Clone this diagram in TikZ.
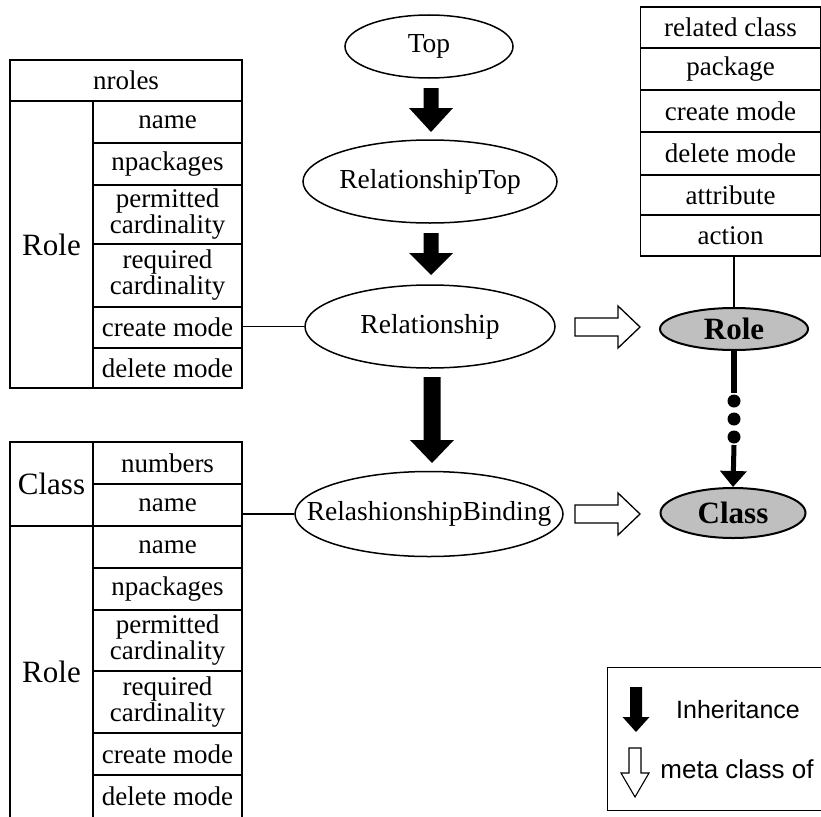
\documentclass[tikz,border=0pt]{standalone}
\usepackage{fontspec}
\setmainfont{Liberation Serif}
\newfontfamily\legendfont{Liberation Sans}
\usetikzlibrary{arrows.meta,calc,shapes.geometric}
\newcommand{\mkzero}[1]{\makebox[0pt]{#1}}
\tikzset{
  cell/.style={draw, line width=1.1pt, rectangle, inner sep=0pt, align=center,
    font=\fontsize{27}{26}\selectfont},
  rcol/.style={cell, minimum width=149pt},
  lcol/.style={cell, minimum width=83pt, font=\fontsize{31}{31}\selectfont},
  tcol/.style={cell, minimum width=180pt},
  ell/.style={draw, ellipse, line width=1.5pt, inner sep=0pt, font=\fontsize{27.5}{27.5}\selectfont},
  gell/.style={ell, fill=black!25, line width=2pt, font=\bfseries\fontsize{31}{31}\selectfont},
  link/.style={line width=1.1pt},
  pics/blk/.style n args={4}{code={
    \fill (-#2,0) -- (#2,0) -- (#2,#1-#4) -- (#3,#1-#4) -- (0,#1) -- (-#3,#1-#4) -- (-#2,#1-#4) -- cycle;}},
  pics/hol/.style n args={4}{code={
    \draw[line width=1.3pt, fill=white] (0,-#2) -- (#1-#4,-#2) -- (#1-#4,-#3) -- (#1,0) -- (#1-#4,#3) -- (#1-#4,#2) -- (0,#2) -- cycle;}},
  pics/hold/.style n args={4}{code={
    \draw[line width=1.1pt, fill=white] (-#2,0) -- (#2,0) -- (#2,#1-#4) -- (#3,#1-#4) -- (0,#1) -- (-#3,#1-#4) -- (-#2,#1-#4) -- cycle;}}
}
\begin{document}
\begin{tikzpicture}[x=1pt,y=-1pt]
\clip (0,0) rectangle (821,816);
\fill[white] (0,0) rectangle (821,816);

% ---------- top-left table ----------
\node[cell, minimum width=232pt, minimum height=41pt] (a_nroles) at (126,80.5) {nroles};
\node[lcol, minimum height=287pt] (a_role) at (51.5,244.5) {Role};
\node[rcol, minimum height=42pt] (a_name) at (167.5,122) {name};
\node[rcol, minimum height=42pt] (a_npack) at (167.5,164) {npackages};
\node[rcol, minimum height=59pt] (a_perm) at (167.5,214.5) {permitted\\cardinality};
\node[rcol, minimum height=63pt] (a_req) at (167.5,275.5) {required\\cardinality};
\node[rcol, minimum height=41pt] (a_cm) at (167.5,327.5) {create mode};
\node[rcol, minimum height=40pt] (a_dm) at (167.5,368) {delete mode};

% ---------- bottom-left table ----------
\node[lcol, minimum height=84pt] (b_class) at (51.5,484) {Class};
\node[rcol, minimum height=42pt] (b_num) at (167.5,463) {numbers};
\node[rcol, minimum height=42pt] (b_cname) at (167.5,505) {name};
\node[lcol, minimum height=292pt] (b_role) at (51.5,672) {Role};
\node[rcol, minimum height=42pt] (b_name) at (167.5,547) {name};
\node[rcol, minimum height=42pt] (b_npack) at (167.5,589) {npackages};
\node[rcol, minimum height=61pt] (b_perm) at (167.5,640.5) {permitted\\cardinality};
\node[rcol, minimum height=62pt] (b_req) at (167.5,702) {required\\cardinality};
\node[rcol, minimum height=42pt] (b_cm) at (167.5,754) {create mode};
\node[rcol, minimum height=43pt] (b_dm) at (167.5,796.5) {delete mode};

% ---------- top-right table ----------
\node[tcol, minimum height=41pt] (c_rel) at (730.5,27.5) {related class};
\node[tcol, minimum height=42pt] (c_pack) at (730.5,69) {package};
\node[tcol, minimum height=42pt] (c_cm) at (730.5,111) {create mode};
\node[tcol, minimum height=43pt] (c_dm) at (730.5,153.5) {delete mode};
\node[tcol, minimum height=40pt] (c_attr) at (730.5,195) {attribute};
\node[tcol, minimum height=41pt] (c_act) at (730.5,235.5) {action};

% ---------- central ellipses ----------
\node[ell, minimum width=168pt, minimum height=63pt] (top) at (429,46.5) {\mkzero{Top}};
\node[ell, minimum width=254pt, minimum height=83pt] (rtop) at (430,181.5) {\mkzero{RelationshipTop}};
\node[ell, minimum width=250pt, minimum height=83pt] (rel) at (430,326.5) {\mkzero{Relationship}};
\node[ell, minimum width=268pt, minimum height=85pt] (rb) at (429,514) {\mkzero{RelashionshipBinding}};

% ---------- meta classes ----------
\node[gell, minimum width=148pt, minimum height=42pt] (role) at (734,329) {\mkzero{Role}};
\node[gell, minimum width=145pt, minimum height=50pt] (class) at (733,513) {\mkzero{Class}};

% ---------- connectors ----------
\draw[link] (rel.west -| a_cm.east) -- (rel.west);
\draw[link] (rb.west -| b_cname.east) -- (rb.west);
\draw[link] (c_act.south -| role.north) -- (role.north);

% inheritance arrows
\pic at (431,88) {blk={44}{7.5}{22}{24}};
\pic at (431,233) {blk={42}{7.5}{22}{22}};
\pic at (432,377) {blk={86}{8.5}{22}{23}};

% meta class arrows
\pic at (575,327) {hol={65}{9}{21}{22}};
\pic at (575,514) {hol={65}{9}{21}{22}};

% Role -> Class dotted arrow
\draw[line width=6.5pt] (role.south) -- ++(0,42);
\foreach \d in {50,68,86} \fill ($(role.south)+(0,\d)$) circle (6.5);
\draw[line width=5pt, -{Triangle[length=16pt,width=26pt]}] ($(role.south)+(0,94)$) -- (class.north);

% ---------- legend ----------
\node[draw, line width=1.1pt, minimum width=240pt, minimum height=143pt, anchor=north west, inner sep=0pt] (legend) at (607,667) {};
\pic at (636,687) {blk={45}{6}{13.5}{15}};
\node[font=\legendfont\fontsize{25}{25}\selectfont] (inh) at (738,710) {Inheritance};
\pic at (635,748) {hold={49}{6}{14}{24}};
\node[font=\legendfont\fontsize{26}{26}\selectfont] (meta) at (737,769) {meta class of};
\end{tikzpicture}
\end{document}
